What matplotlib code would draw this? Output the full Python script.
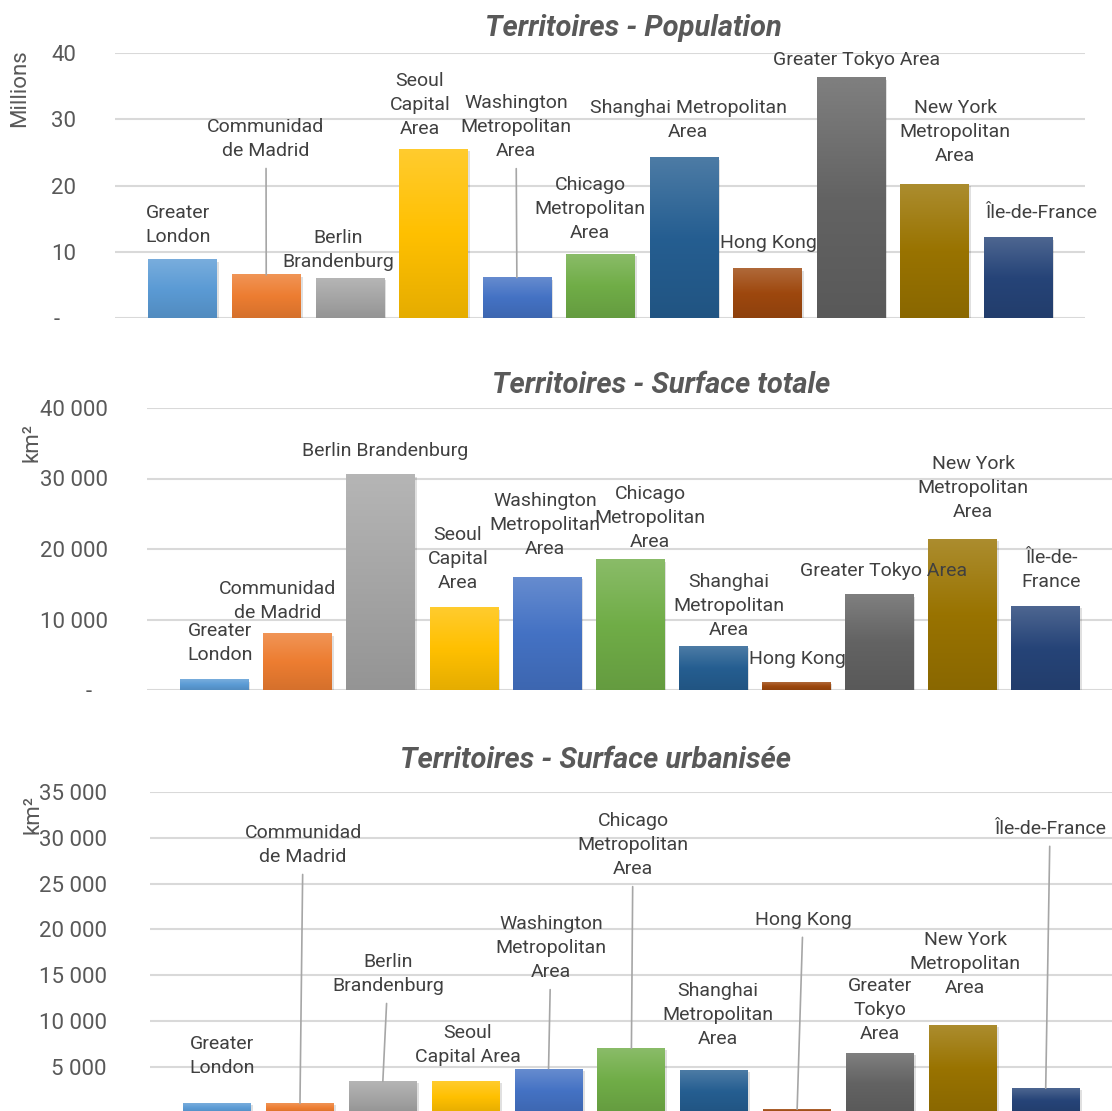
import numpy as np
import matplotlib
matplotlib.use("Agg")
import matplotlib.pyplot as plt
from matplotlib.colors import LinearSegmentedColormap, to_rgb
from matplotlib import patheffects as pe

W, H, DPI = 1112, 1111, 100

plt.rcParams["font.family"] = ["Roboto", "DejaVu Sans"]

# one colour per territory, same order in every panel
bar_colors = ["#5B9BD5", "#ED7D31", "#A5A5A5", "#FFC000", "#4472C4", "#70AD47",
              "#255E91", "#9E480E", "#636363", "#997300", "#264478"]

population_m = [8.8, 6.5, 6.0, 25.5, 6.1, 9.6, 24.2, 7.4, 36.3, 20.2, 12.1]
surface_totale_km2 = [1500, 8000, 30500, 11700, 16000, 18500, 6200, 1100, 13500, 21400, 11900]
surface_urbaine_km2 = [1000, 1000, 3400, 3400, 4800, 7000, 4600, 350, 6500, 9550, 2650]

labels_pop = ["Greater\nLondon", "Communidad\nde Madrid", "Berlin\nBrandenburg",
              "Seoul\nCapital\nArea", "Washington\nMetropolitan\nArea",
              "Chicago\nMetropolitan\nArea", "Shanghai Metropolitan\nArea", "Hong Kong",
              "Greater Tokyo Area", "New York\nMetropolitan\nArea", "Île-de-France"]
labels_tot = ["Greater\nLondon", "Communidad\nde Madrid", "Berlin Brandenburg",
              "Seoul\nCapital\nArea", "Washington\nMetropolitan\nArea",
              "Chicago\nMetropolitan\nArea", "Shanghai\nMetropolitan\nArea", "Hong Kong",
              "Greater Tokyo Area", "New York\nMetropolitan\nArea", "Île-de-\nFrance"]
labels_urb = ["Greater\nLondon", "Communidad\nde Madrid", "Berlin\nBrandenburg",
              "Seoul\nCapital Area", "Washington\nMetropolitan\nArea",
              "Chicago\nMetropolitan\nArea", "Shanghai\nMetropolitan\nArea", "Hong Kong",
              "Greater\nTokyo\nArea", "New York\nMetropolitan\nArea", "Île-de-France"]

# label centres in figure pixels (from top-left) and whether a leader line is drawn
pos_pop = [(178, 225), (266, 139), (338, 250), (420, 105), (516, 127), (590, 209),
           (688, 120), (768, 243), (857, 60), (955, 132), (1041, 213)]
lead_pop = [0, 1, 0, 0, 1, 0, 0, 0, 0, 0, 0]
pos_tot = [(220, 643), (278, 601), (385, 451), (458, 559), (545, 525), (650, 518),
           (729, 606), (797, 659), (884, 571), (973, 488), (1051, 570)]
lead_tot = [0] * 11
pos_urb = [(222, 1056), (303, 845), (388, 974), (468, 1045), (551, 948), (633, 845),
           (718, 1015), (803, 920), (880, 1010), (965, 964), (1050, 829)]
lead_urb = [0, 1, 1, 0, 1, 1, 0, 1, 0, 0, 1]

panels = [
    dict(values=population_m, labels=labels_pop, pos=pos_pop, lead=lead_pop,
         rect=(115, 53, 1085, 318), ylim=(0, 40), yticks=[0, 10, 20, 30, 40],
         title="Territoires - Population", title_xy=(633, 28),
         unit="Millions", unit_xy=(20, 88), pad=28),
    dict(values=surface_totale_km2, labels=labels_tot, pos=pos_tot, lead=lead_tot,
         rect=(147, 408, 1112, 690), ylim=(0, 40000),
         yticks=[0, 10000, 20000, 30000, 40000],
         title="Territoires - Surface totale", title_xy=(661, 385),
         unit="km²", unit_xy=(32, 442), pad=28),
    dict(values=surface_urbaine_km2, labels=labels_urb, pos=pos_urb, lead=lead_urb,
         rect=(150, 792, 1112, 1112.5), ylim=(0, 35000),
         yticks=list(range(5000, 35001, 5000)),
         title="Territoires - Surface urbanisée", title_xy=(596, 760),
         unit="km²", unit_xy=(33, 815), pad=31),
]


def tick_text(v):
    if v == 0:
        return "-   "
    return f"{v:,.0f}".replace(",", " ")


def gradient_bars(ax, bars, colors):
    for b, c in zip(bars, colors):
        rgb = np.array(to_rgb(c))
        top = rgb + (1 - rgb) * 0.18
        bottom = rgb * 0.9
        cmap = LinearSegmentedColormap.from_list("g", [bottom, rgb, top])
        grad = np.linspace(1, 0, 64).reshape(-1, 1)
        x0, w, h = b.get_x(), b.get_width(), b.get_height()
        ax.imshow(grad, extent=[x0, x0 + w, 0, h], aspect="auto", cmap=cmap,
                  zorder=2.1, interpolation="bicubic")
        b.set_path_effects([pe.SimplePatchShadow(offset=(1.5, -1.5), shadow_rgbFace="#000000",
                                                 alpha=0.12), pe.Normal()])


fig = plt.figure(figsize=(W / DPI, H / DPI), dpi=DPI)

for p in panels:
    l, t, r, b = p["rect"]
    ax = fig.add_axes([l / W, 1 - b / H, (r - l) / W, (b - t) / H])
    x = np.arange(len(p["values"]))
    bars = ax.bar(x, p["values"], width=0.82, color=bar_colors, zorder=2)
    gradient_bars(ax, bars, bar_colors)
    ax.set_xlim(-0.81, 10.8)
    ax.set_ylim(*p["ylim"])
    ax.set_yticks(p["yticks"])
    ax.set_yticklabels([tick_text(v) for v in p["yticks"]])
    ax.tick_params(axis="y", length=0, pad=p["pad"], labelsize=16, labelcolor="#595959")
    ax.set_xticks([])
    ax.grid(True, axis="y", color="#D9D9D9", linewidth=1.5, zorder=0)
    for s in ax.spines.values():
        s.set_visible(False)

    for i, (lab, (px, py), lead) in enumerate(zip(p["labels"], p["pos"], p["lead"])):
        arrow = dict(arrowstyle="-", color="#A6A6A6", lw=1.2, shrinkA=4, shrinkB=0) if lead else None
        ax.annotate(lab, xy=(i, p["values"][i]), xycoords="data",
                    xytext=(px, H - py), textcoords="figure pixels",
                    ha="center", va="center", fontsize=14, color="#404040",
                    linespacing=1.45, arrowprops=arrow, annotation_clip=False, zorder=5)

    fig.text(p["title_xy"][0] / W, 1 - p["title_xy"][1] / H, p["title"],
             ha="center", va="center", fontsize=21, fontweight="bold", style="italic",
             color="#595959")
    fig.text(p["unit_xy"][0] / W, 1 - p["unit_xy"][1] / H, p["unit"], rotation=90,
             ha="center", va="center", fontsize=16, color="#595959")

fig.savefig("out.png", dpi=DPI)
